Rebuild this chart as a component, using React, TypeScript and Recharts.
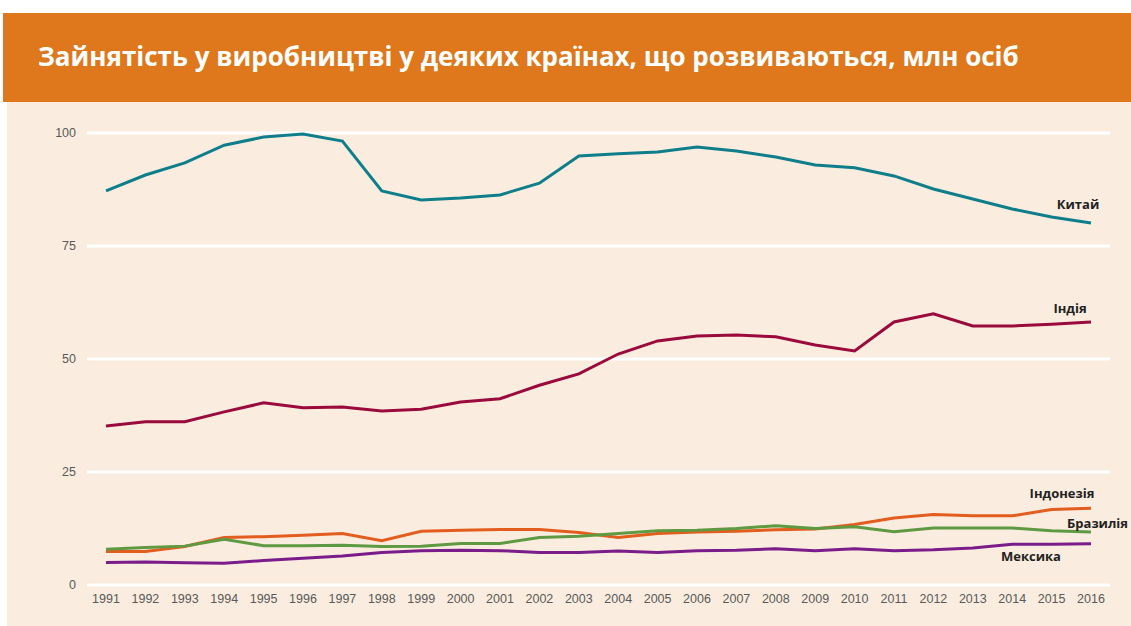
import React from 'react';
import { LineChart, Line, XAxis, YAxis, CartesianGrid } from 'recharts';

const years = [
  '1991', '1992', '1993', '1994', '1995', '1996', '1997', '1998', '1999', '2000',
  '2001', '2002', '2003', '2004', '2005', '2006', '2007', '2008', '2009', '2010',
  '2011', '2012', '2013', '2014', '2015', '2016',
];

const china = [
  87.2, 90.7, 93.4, 97.3, 99.1, 99.8, 98.2, 87.2, 85.2, 85.6,
  86.3, 88.9, 94.9, 95.4, 95.8, 96.9, 96.0, 94.7, 92.9, 92.3,
  90.5, 87.6, 85.4, 83.2, 81.4, 80.1,
];
const india = [
  35.2, 36.1, 36.1, 38.3, 40.3, 39.2, 39.4, 38.5, 38.9, 40.5,
  41.2, 44.2, 46.7, 51.1, 54.0, 55.1, 55.3, 54.9, 53.1, 51.8,
  58.2, 60.0, 57.3, 57.3, 57.7, 58.2,
];
const indonesia = [
  7.4, 7.4, 8.5, 10.5, 10.7, 11.0, 11.4, 9.8, 11.9, 12.1,
  12.3, 12.3, 11.6, 10.5, 11.4, 11.7, 11.9, 12.2, 12.4, 13.4,
  14.8, 15.6, 15.3, 15.3, 16.7, 17.0,
];
const brazil = [
  7.9, 8.3, 8.6, 10.1, 8.7, 8.7, 8.8, 8.5, 8.6, 9.2,
  9.2, 10.5, 10.8, 11.4, 12.0, 12.1, 12.5, 13.1, 12.5, 12.9,
  11.8, 12.6, 12.6, 12.6, 12.0, 11.7,
];
const mexico = [
  5.0, 5.1, 4.9, 4.8, 5.4, 5.9, 6.4, 7.2, 7.6, 7.7,
  7.6, 7.2, 7.2, 7.5, 7.2, 7.6, 7.7, 8.0, 7.6, 8.0,
  7.6, 7.8, 8.2, 9.0, 9.0, 9.1,
];

const yTicks = [0, 25, 50, 75, 100];

const data = years.map((year, i) => ({
  year,
  china: china[i],
  india: india[i],
  indonesia: indonesia[i],
  brazil: brazil[i],
  mexico: mexico[i],
}));

const lastIndex = years.length - 1;

const endLabel = (text: string, dx: number, dy: number, anchor = 'middle') => (props: any) => {
  if (props.index !== lastIndex) return null;
  return (
    <text
      x={props.x + dx}
      y={props.y + dy}
      textAnchor={anchor}
      fontFamily="'Open Sans', sans-serif"
      fontWeight={700}
      fontSize={13}
      fill="#222"
    >
      {text}
    </text>
  );
};

const tickStyle = { fill: '#595959', fontSize: 12.5, fontFamily: "'Liberation Sans', Arial, sans-serif" };

const App = () => {
  return (
    <div style={{ position: 'absolute', left: 0, top: 0, width: 1131, height: 626, background: '#fff', overflow: 'hidden' }}>
      <div
        style={{
          position: 'absolute',
          left: 3,
          top: 13,
          width: 1128,
          height: 89,
          background: '#DF781C',
          color: '#fff',
          fontFamily: "'Open Sans', sans-serif",
          fontWeight: 700,
          fontSize: 26,
          lineHeight: '86px',
          paddingLeft: 35,
          boxSizing: 'border-box',
          whiteSpace: 'nowrap',
        }}
      >
        Зайнятість у виробництві у деяких країнах, що розвиваються, млн осіб
      </div>
      <div style={{ position: 'absolute', left: 7, top: 102, width: 1124, height: 524, background: '#FAEDDF' }} />
      <div style={{ position: 'absolute', left: 0, top: 0 }}>
        <LineChart
          width={1131}
          height={626}
          data={data}
          margin={{ top: 133, right: 21, bottom: 0, left: 27 }}
        >
          <CartesianGrid vertical={false} stroke="#ffffff" strokeWidth={3} />
          <XAxis
            dataKey="year"
            axisLine={false}
            tickLine={false}
            tickSize={0}
            tickMargin={9}
            height={41}
            interval={0}
            padding={{ left: 19, right: 19 }}
            tick={tickStyle}
          />
          <YAxis
            domain={[0, 100]}
            ticks={yTicks}
            axisLine={false}
            tickLine={false}
            tickSize={0}
            tickMargin={11}
            width={60}
            tick={tickStyle}
          />
          <Line dataKey="china" stroke="#0E7E8B" strokeWidth={3} dot={false} isAnimationActive={false} label={endLabel('Китай', -13, -14)} />
          <Line dataKey="india" stroke="#9A0A3C" strokeWidth={3} dot={false} isAnimationActive={false} label={endLabel('Індія', -21, -9)} />
          <Line dataKey="indonesia" stroke="#E35D1F" strokeWidth={3} dot={false} isAnimationActive={false} label={endLabel('Індонезія', -29, -10)} />
          <Line dataKey="brazil" stroke="#5F9A43" strokeWidth={3} dot={false} isAnimationActive={false} label={endLabel('Бразилія', -24, -4, 'start')} />
          <Line dataKey="mexico" stroke="#7A1C8A" strokeWidth={3} dot={false} isAnimationActive={false} label={endLabel('Мексика', -60, 17)} />
        </LineChart>
      </div>
    </div>
  );
};

export default App;
